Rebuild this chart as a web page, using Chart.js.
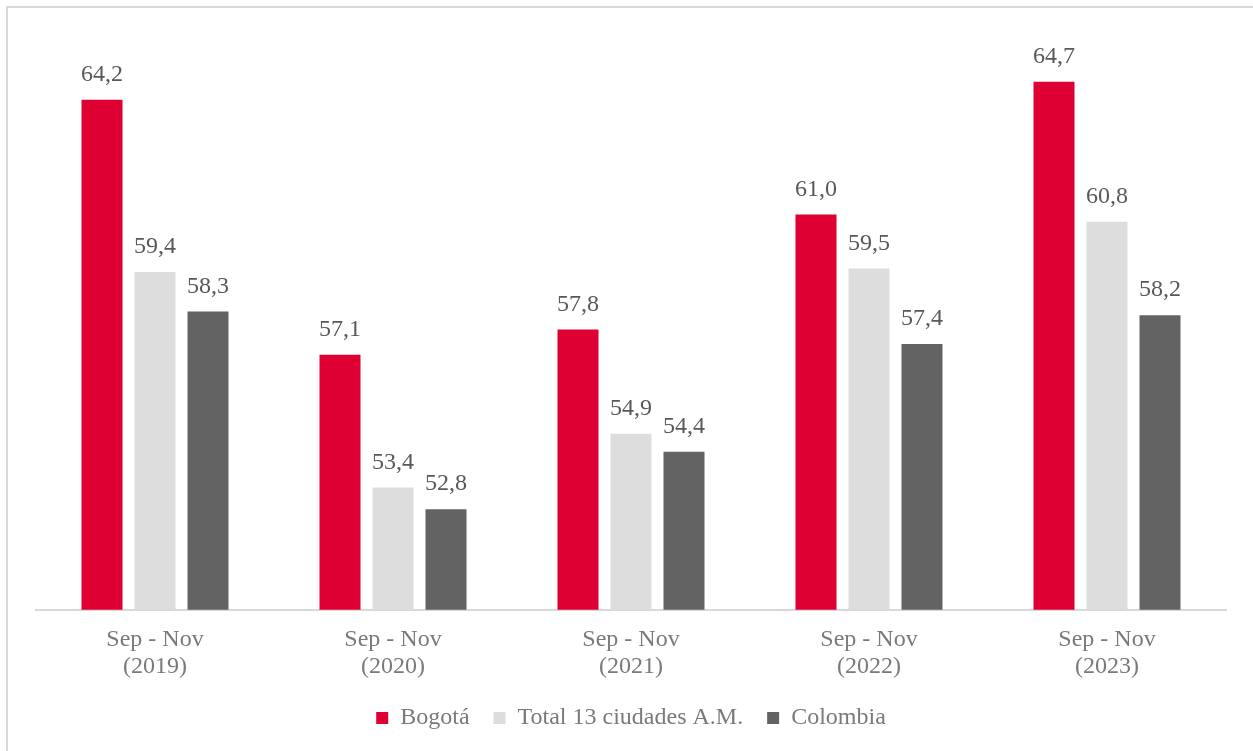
<!DOCTYPE html>
<html lang="es">
<head>
<meta charset="UTF-8">
<title>Bogotá vs 13 ciudades vs Colombia</title>
<style>
html, body { margin: 0; padding: 0; background: #fff; overflow: hidden; }
#wrap { position: relative; width: 1253px; height: 751px; }
#frame { position: absolute; left: 6px; top: 6px; width: 1300px; height: 800px; border-left: 2px solid #d9d9d9; border-top: 2px solid #d9d9d9; pointer-events: none; }
canvas { position: absolute; left: 0; top: 0; }
</style>
</head>
<body>
<div id="wrap">
  <canvas id="chart" width="1253" height="751"></canvas>
  <div id="frame"></div>
</div>

<script src="https://cdn.jsdelivr.net/npm/chart.js"></script>
<script>
const periods = [
  ['Sep - Nov', '(2019)'],
  ['Sep - Nov', '(2020)'],
  ['Sep - Nov', '(2021)'],
  ['Sep - Nov', '(2022)'],
  ['Sep - Nov', '(2023)']
];
const seriesNames = ['Bogotá', 'Total 13 ciudades A.M.', 'Colombia'];
const bogota = [64.2, 57.1, 57.8, 61.0, 64.7];
const trece = [59.4, 53.4, 54.9, 59.5, 60.8];
const colombia = [58.3, 52.8, 54.4, 57.4, 58.2];
const colors = ['#de0032', '#dddddd', '#636363'];

const FONT = "'Liberation Serif', 'Times New Roman', serif";

// value labels above each bar, comma decimal
const valueLabels = {
  id: 'valueLabels',
  afterDatasetsDraw(chart) {
    const ctx = chart.ctx;
    ctx.save();
    ctx.font = '24px ' + FONT;
    ctx.fillStyle = '#595959';
    ctx.textAlign = 'center';
    ctx.textBaseline = 'middle';
    chart.data.datasets.forEach((ds, i) => {
      chart.getDatasetMeta(i).data.forEach((bar, j) => {
        const txt = ds.data[j].toFixed(1).replace('.', ',');
        ctx.fillText(txt, bar.x, bar.y - 25);
      });
    });
    ctx.restore();
  }
};

new Chart(document.getElementById('chart'), {
  type: 'bar',
  data: {
    labels: periods,
    datasets: [bogota, trece, colombia].map((d, i) => ({
      label: seriesNames[i],
      data: d,
      backgroundColor: colors[i],
      borderWidth: 0,
      categoryPercentage: 0.668,
      barPercentage: 0.774
    }))
  },
  options: {
    responsive: false,
    animation: false,
    layout: { padding: { left: 36, right: 27, top: 35, bottom: 11 } },
    plugins: {
      tooltip: { enabled: false },
      legend: {
        position: 'bottom',
        labels: {
          font: { family: FONT, size: 24 },
          color: '#7a7a7a',
          boxWidth: 12,
          boxHeight: 12,
          padding: 24
        }
      }
    },
    scales: {
      x: {
        grid: { display: false, drawTicks: false },
        border: { display: true, color: '#d9d9d9', width: 2 },
        ticks: {
          font: { family: FONT, size: 24, lineHeight: 1.13 },
          color: '#7a7a7a',
          padding: 16,
          maxRotation: 0
        },
        afterFit(scale) { scale.height -= 14; }
      },
      y: {
        display: false,
        min: 50,
        max: 66
      }
    }
  },
  plugins: [valueLabels]
});
</script>
</body>
</html>
